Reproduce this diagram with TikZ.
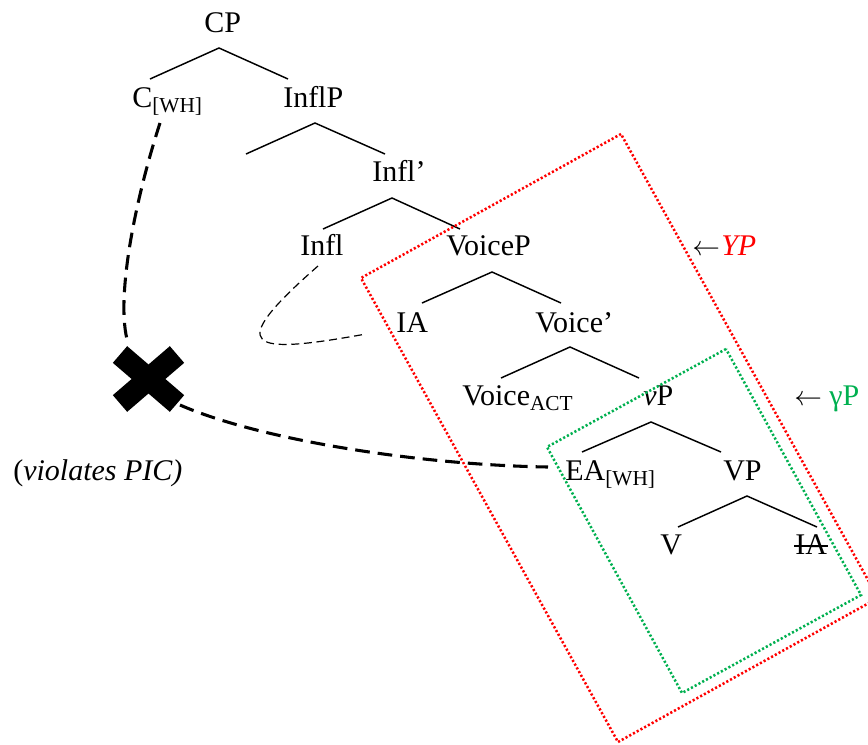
\documentclass[tikz,border=0pt]{standalone}
\usepackage{fontspec}
\setmainfont{Liberation Serif}
\usetikzlibrary{calc}
\definecolor{ggreen}{RGB}{0,176,80}
\newcommand\mysub[1]{\raisebox{-3.75pt}{\fontsize{16}{18}\selectfont #1}}
\begin{document}
\begin{tikzpicture}[x=0.75pt,y=-0.75pt,
  tx/.style={inner sep=0pt, anchor=base west, font=\fontsize{22.5}{27}\selectfont},
  branch/.style={line width=1.1pt},
  bigdash/.style={line width=2.3pt, dash pattern=on 11pt off 6pt},
  thindash/.style={line width=0.9pt, dash pattern=on 6pt off 3.5pt},
  redbox/.style={draw=red, line width=1.9pt, dash pattern=on 1.6pt off 1.6pt},
  greenbox/.style={draw=ggreen, line width=1.9pt, dash pattern=on 1.6pt off 1.6pt},
  xbar/.style={line width=16.5pt, line cap=butt}]
\clip (0,0) rectangle (868,744);

% labels
\node[tx] (cp) at (204,32) {CP};
\node[tx] (c) at (132,107) {C\mysub{[WH]}};
\node[tx] (inflp) at (283,107) {InflP};
\node[tx] (inflbar) at (372,181) {Infl’};
\node[tx] (infl) at (300,255) {Infl};
\node[tx] (voicep) at (446,255) {VoiceP};
\node[tx] (ia) at (396,332) {IA};
\node[tx] (voicebar) at (535,332) {Voice’};
\node[tx] (voice) at (462,405) {Voice\mysub{ACT}};
\node[tx] (smallvp) at (643,405) {\textit{v}P};
\node[tx] (ea) at (565,480) {EA\mysub{[WH]}};
\node[tx] (bigvp) at (723,480) {VP};
\node[tx] (verb) at (660,554) {V};
\node[tx] (iacopy) at (795,554) {IA};
\draw[branch] ($(iacopy.base west)+(-1,-8)$) -- ($(iacopy.base east)+(1,-8)$);
\node[tx] (pic) at (13,480) {(\textit{violates PIC)}};
\node[tx] (yp) at (692,255) {$\leftarrow$\kern1pt\textcolor{red}{\textit{YP}}};
\node[tx] (gp) at (794,405) {$\leftarrow$ \textcolor{ggreen}{γP}};

% branches
\coordinate (a1) at (219,48);  \coordinate (l1) at (150,79);  \coordinate (r1) at (288,79);
\coordinate (a2) at (315,123); \coordinate (l2) at (246,154); \coordinate (r2) at (385,154);
\coordinate (a3) at (392,198); \coordinate (l3) at (323,229); \coordinate (r3) at (460,229);
\coordinate (a4) at (492,272); \coordinate (l4) at (422,303); \coordinate (r4) at (561,303);
\coordinate (a5) at (570,347); \coordinate (l5) at (501,378); \coordinate (r5) at (639,378);
\coordinate (a6) at (651,422); \coordinate (l6) at (582,452); \coordinate (r6) at (721,452);
\coordinate (a7) at (747,496); \coordinate (l7) at (678,527); \coordinate (r7) at (817,527);
\foreach \i in {1,...,7}{\draw[branch] (l\i) -- (a\i) -- (r\i);}

% boxes
\coordinate (rt) at (621,134); \coordinate (rl) at (361,278);
\coordinate (rb) at (618,742); \coordinate (rr) at (878,598);
\draw[redbox] (rt) -- (rl) -- (rb) -- (rr) -- cycle;
\coordinate (gt) at (726,349); \coordinate (gl) at (547,447);
\coordinate (gb) at (682,693); \coordinate (gr) at (861,595);
\draw[greenbox] (gt) -- (gl) -- (gb) -- (gr) -- cycle;

% cross
\node[inner sep=0pt, minimum size=60] (xmark) at (148.5,379) {};
\draw[xbar] ($(xmark.center)+(-28.5,-24.5)$) -- ($(xmark.center)+(28.5,24.5)$);
\draw[xbar] ($(xmark.center)+(28.5,-24.5)$) -- ($(xmark.center)+(-28.5,24.5)$);

% movement paths
\coordinate (d1s) at (160,123); \coordinate (d1e) at (128,343);
\draw[bigdash] (d1s) .. controls (135,200) and (115,300) .. (d1e);
\coordinate (d2s) at (180,405); \coordinate (d2e) at (548,467);
\draw[bigdash] (d2s) .. controls (260,440) and (420,465) .. (d2e);
\coordinate (d3s) at (318,266); \coordinate (d3e) at (366,334);
\draw[thindash] (d3s) .. controls (222,350) and (250,355) .. (d3e);
\end{tikzpicture}
\end{document}
